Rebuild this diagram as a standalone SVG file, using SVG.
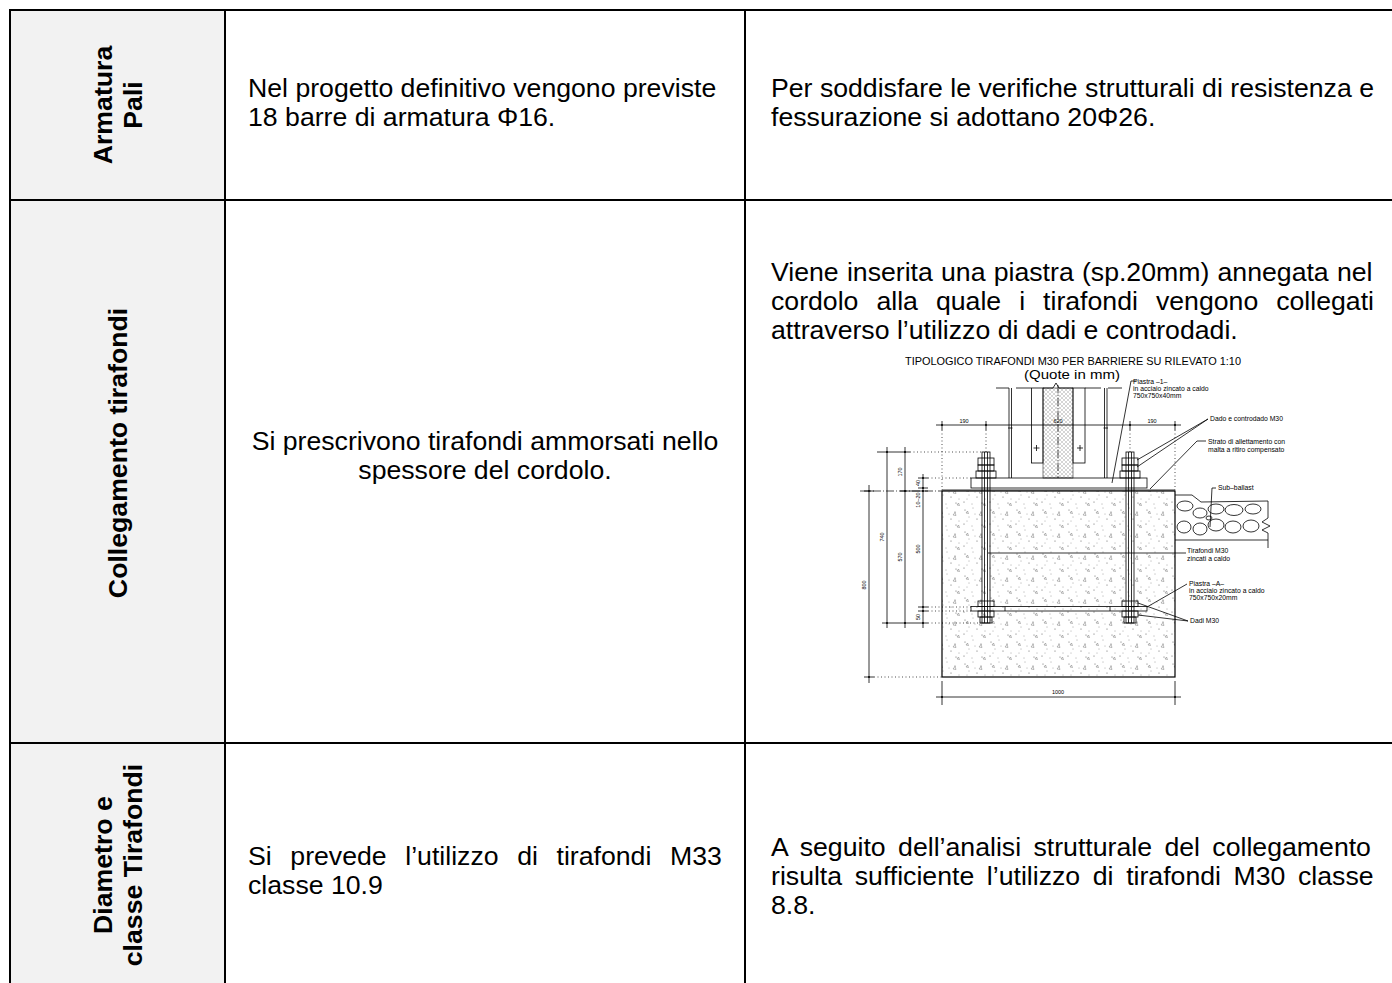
<svg xmlns="http://www.w3.org/2000/svg" width="1392" height="983" viewBox="0 0 1392 983">
<style>
.t{font-family:"Liberation Sans",Arial,sans-serif;font-size:26.67px;fill:#000}
.b{font-weight:bold}
.g{stroke:#000;stroke-width:2;fill:none}
.ln{stroke:#000;stroke-width:0.8;fill:none}
.dot{stroke:#000;stroke-width:0.7;stroke-dasharray:1 2.5;fill:none}
.dd{stroke:#000;stroke-width:0.7;stroke-dasharray:8 2 1 2;fill:none}
.cad{font-family:"Liberation Sans",Arial,sans-serif;font-size:6.8px;fill:#000}
.ct{font-family:"Liberation Sans",Arial,sans-serif;font-size:11px;fill:#000}
.dim{font-family:"Liberation Sans",Arial,sans-serif;font-size:5.5px;fill:#000}
</style>
<defs>
<pattern id="conc" width="26" height="22" patternUnits="userSpaceOnUse">
<g fill="#444">
<circle cx="3" cy="4" r="0.5"/><circle cx="11" cy="2" r="0.45"/><circle cx="19" cy="6" r="0.5"/>
<circle cx="7" cy="11" r="0.45"/><circle cx="15" cy="13" r="0.5"/><circle cx="23" cy="15" r="0.45"/>
<circle cx="2" cy="18" r="0.5"/><circle cx="10" cy="20" r="0.45"/><circle cx="20" cy="19" r="0.5"/>
<circle cx="13" cy="8" r="0.4"/><circle cx="5" cy="15" r="0.4"/>
</g>
<path d="M17 9 l2 -2.5 l1 3 z M4 7 l1.5 -2 l1 2.5 z M21 21 l1.5 -2 l1 2.5 z" fill="none" stroke="#555" stroke-width="0.4"/>
</pattern>
<pattern id="hatch" width="4" height="4" patternUnits="userSpaceOnUse">
<path d="M0 0 L4 4 M4 0 L0 4" stroke="#aaa" stroke-width="0.5"/>
</pattern>
</defs>

<rect x="10" y="10" width="215" height="973" fill="#f2f2f2"/>

<g id="grid">
<line class="g" x1="9" y1="10" x2="1392" y2="10"/>
<line class="g" x1="10" y1="9" x2="10" y2="983"/>
<line class="g" x1="225" y1="10" x2="225" y2="983"/>
<line class="g" x1="745" y1="10" x2="745" y2="983"/>
<line class="g" x1="10" y1="200" x2="1392" y2="200"/>
<line class="g" x1="10" y1="743" x2="1392" y2="743"/>
</g>

<g id="row1-head">
<text class="t b" text-anchor="middle" transform="translate(112,105) rotate(-90)">Armatura</text>
<text class="t b" text-anchor="middle" transform="translate(142,105) rotate(-90)">Pali</text>
</g>
<g id="row1-col2">
<text class="t" x="248" y="97">Nel progetto definitivo vengono previste</text>
<text class="t" x="248" y="126">18 barre di armatura Φ16.</text>
</g>
<g id="row1-col3">
<text class="t" x="771" y="97">Per soddisfare le verifiche strutturali di resistenza e</text>
<text class="t" x="771" y="126">fessurazione si adottano 20Φ26.</text>
</g>

<g id="row2-head">
<text class="t b" text-anchor="middle" transform="translate(127,453) rotate(-90)">Collegamento tirafondi</text>
</g>
<g id="row2-col2">
<text class="t" x="485" y="450" text-anchor="middle">Si prescrivono tirafondi ammorsati nello</text>
<text class="t" x="485" y="479" text-anchor="middle">spessore del cordolo.</text>
</g>
<g id="row2-col3">
<text class="t" x="771" y="281" word-spacing="0.8">Viene inserita una piastra (sp.20mm) annegata nel</text>
<text class="t" x="771" y="310" word-spacing="10.6">cordolo alla quale i tirafondi vengono collegati</text>
<text class="t" x="771" y="339">attraverso l’utilizzo di dadi e controdadi.</text>
</g>

<g id="drawing">
<text class="ct" x="1073" y="365" text-anchor="middle" textLength="336" lengthAdjust="spacingAndGlyphs">TIPOLOGICO TIRAFONDI M30 PER BARRIERE SU RILEVATO 1:10</text>
<text class="ct" x="1072" y="379" text-anchor="middle" textLength="96" lengthAdjust="spacingAndGlyphs" style="font-size:12.5px">(Quote in mm)</text>

<!-- concrete block -->
<rect x="942" y="491" width="233" height="186" fill="url(#conc)" stroke="#000" stroke-width="1.2"/>

<!-- ballast -->
<path class="ln" d="M1175 495 L1192 495 L1201 502 L1268 501 L1268 518 L1262 522 L1270 526 L1262 530 L1268 533 L1268 540 L1175 540" fill="#fff"/>
<g class="ln" stroke-width="0.5">
<ellipse cx="1185" cy="506" rx="8" ry="5"/><ellipse cx="1200" cy="513" rx="7" ry="5"/><ellipse cx="1216" cy="509" rx="8" ry="5"/>
<ellipse cx="1234" cy="510" rx="9" ry="5.5"/><ellipse cx="1253" cy="509" rx="8" ry="5"/><ellipse cx="1184" cy="527" rx="7" ry="6"/>
<ellipse cx="1200" cy="529" rx="7" ry="6"/><ellipse cx="1216" cy="525" rx="8" ry="6"/><ellipse cx="1233" cy="527" rx="8" ry="6"/>
<ellipse cx="1251" cy="526" rx="8" ry="6"/><ellipse cx="1209" cy="518" rx="3" ry="2"/>
</g>
<line class="ln" x1="1268" y1="540" x2="1268" y2="548"/>

<!-- column -->
<rect x="1043" y="388" width="30" height="90" fill="url(#hatch)" stroke="#000" stroke-width="0.5"/>
<path class="ln" d="M1043 388 L1053 388 L1056 383 L1059 388 L1073 388" fill="#fff"/>
<line class="dd" x1="1058" y1="385" x2="1058" y2="478"/>
<g class="ln">
<path d="M996 388 L1009 388 M1016 388 L1031 388 M1085 388 L1101 388 M1108 388 L1122 388"/>
<line x1="1009" y1="388" x2="1009" y2="478"/><line x1="1011.5" y1="388" x2="1011.5" y2="478"/>
<line x1="1104.5" y1="388" x2="1104.5" y2="478"/><line x1="1107" y1="388" x2="1107" y2="478"/>
<rect x="1031.5" y="388" width="11.5" height="75"/>
<rect x="1073" y="388" width="12" height="75"/>
<path d="M1033.5 448 H1039.5 M1036.5 445 V451 M1077 448 H1083 M1080 445 V451"/>
<path d="M1008 428 H1012.5 M1103.5 428 H1108"/>
</g>

<!-- base plate -->
<rect class="ln" x="971" y="478" width="176" height="10" fill="#fff"/>
<line class="ln" x1="942" y1="490" x2="1175" y2="490"/>

<!-- bottom plate -->
<rect class="ln" x="971" y="606.5" width="176" height="4.5" fill="#fff"/>
<path class="ln" d="M1005 606.5 V611 M1110 606.5 V611"/>

<!-- bolts -->
<g class="ln" fill="#fff">
<rect x="982" y="452" width="8" height="171"/>
<rect x="1126" y="452" width="8" height="171"/>
<rect x="978" y="458" width="16" height="7"/><rect x="978" y="465" width="16" height="6"/><rect x="976" y="471" width="20" height="7"/>
<rect x="1122" y="458" width="16" height="7"/><rect x="1122" y="465" width="16" height="6"/><rect x="1120" y="471" width="20" height="7"/>
<rect x="978" y="601" width="16" height="5.5"/><rect x="978" y="611" width="16" height="6"/><rect x="980" y="617" width="12" height="6"/>
<rect x="1122" y="601" width="16" height="5.5"/><rect x="1122" y="611" width="16" height="6"/><rect x="1124" y="617" width="12" height="6"/>
</g>
<g class="ln" stroke-width="0.5">
<line x1="984.5" y1="452" x2="984.5" y2="623"/><line x1="987.5" y1="452" x2="987.5" y2="623"/>
<line x1="1128.5" y1="452" x2="1128.5" y2="623"/><line x1="1131.5" y1="452" x2="1131.5" y2="623"/>
</g>

<!-- top dimension -->
<line class="ln" x1="936" y1="425" x2="1181" y2="425"/>
<g class="ln"><path d="M942 421 V430 M986 421 V430 M1130 421 V430 M1175 421 V430"/></g>
<g fill="#000"><circle cx="942" cy="425" r="1"/><circle cx="986" cy="425" r="1"/><circle cx="1130" cy="425" r="1"/><circle cx="1175" cy="425" r="1"/></g>
<path class="dot" d="M942 430 V490 M1175 430 V490 M986 430 V452 M1130 430 V452"/>
<text class="dim" x="964" y="423" text-anchor="middle">190</text>
<text class="dim" x="1058" y="423" text-anchor="middle">620</text>
<text class="dim" x="1152" y="423" text-anchor="middle">190</text>

<!-- left dimensions -->
<g class="ln">
<line x1="869" y1="485" x2="869" y2="683"/>
<line x1="887" y1="447" x2="887" y2="628"/>
<line x1="905" y1="447" x2="905" y2="628"/>
<line x1="923" y1="474" x2="923" y2="628"/>
<path d="M864 491 H874 M864 677 H874 M877 452 H910 M882 623 H928 M900 491 H928 M918 478 H928 M918 488 H928 M918 607 H928 M918 611 H928"/>
</g>
<g fill="#000">
<circle cx="869" cy="491" r="1"/><circle cx="869" cy="677" r="1"/>
<circle cx="887" cy="452" r="1"/><circle cx="887" cy="623" r="1"/>
<circle cx="905" cy="452" r="1"/><circle cx="905" cy="491" r="1"/><circle cx="905" cy="623" r="1"/>
<circle cx="923" cy="478" r="1"/><circle cx="923" cy="488" r="1"/><circle cx="923" cy="491" r="1"/><circle cx="923" cy="607" r="1"/><circle cx="923" cy="611" r="1"/><circle cx="923" cy="623" r="1"/>
</g>
<line class="dd" x1="860" y1="491" x2="942" y2="491"/>
<path class="dot" d="M874 677 H942 M910 452 H982 M928 478 H971 M928 607 H971 M928 611 H971 M928 623 H978"/>
<text class="dim" text-anchor="middle" transform="translate(866,585) rotate(-90)">800</text>
<text class="dim" text-anchor="middle" transform="translate(884,537) rotate(-90)">740</text>
<text class="dim" text-anchor="middle" transform="translate(902,472) rotate(-90)">170</text>
<text class="dim" text-anchor="middle" transform="translate(902,557) rotate(-90)">570</text>
<text class="dim" text-anchor="middle" transform="translate(920,483) rotate(-90)">40</text>
<text class="dim" text-anchor="middle" transform="translate(920,500) rotate(-90)">10–20</text>
<text class="dim" text-anchor="middle" transform="translate(920,549) rotate(-90)">500</text>
<text class="dim" text-anchor="middle" transform="translate(920,617) rotate(-90)">50</text>

<!-- bottom dimension -->
<line class="ln" x1="936" y1="697" x2="1181" y2="697"/>
<path class="ln" d="M942 681 V705 M1175 681 V705"/>
<g fill="#000"><circle cx="942" cy="697" r="1"/><circle cx="1175" cy="697" r="1"/></g>
<text class="dim" x="1058" y="694" text-anchor="middle">1000</text>

<!-- leaders -->
<g class="ln" stroke-width="0.6">
<path d="M1136 381 H1131 L1112 483"/>
<path d="M1208 419 L1137 460 M1208 419 L1137 467"/>
<path d="M1206 441 H1197 L1150 489"/>
<path d="M1216 488 H1212 L1210 527"/>
<path d="M988 553 H1186"/>
<path d="M1187 584 L1147 607"/>
<path d="M1188 621 L1138 603 M1188 621 L1138 615"/>
</g>
<text class="cad" x="1133" y="384">Piastra –1–</text>
<text class="cad" x="1133" y="391">in acciaio zincato a caldo</text>
<text class="cad" x="1133" y="398">750x750x40mm</text>
<text class="cad" x="1210" y="421">Dado e controdado M30</text>
<text class="cad" x="1208" y="444">Strato di allettamento con</text>
<text class="cad" x="1208" y="452">malta a ritiro compensato</text>
<text class="cad" x="1218" y="490">Sub–ballast</text>
<text class="cad" x="1187" y="553">Tirafondi M30</text>
<text class="cad" x="1187" y="561">zincati a caldo</text>
<text class="cad" x="1189" y="586">Piastra –A–</text>
<text class="cad" x="1189" y="593">in acciaio zincato a caldo</text>
<text class="cad" x="1189" y="600">750x750x20mm</text>
<text class="cad" x="1190" y="623">Dadi M30</text>
</g>

<g id="row3-head">
<text class="t b" text-anchor="middle" transform="translate(112,865) rotate(-90)">Diametro e</text>
<text class="t b" text-anchor="middle" transform="translate(142,865) rotate(-90)">classe Tirafondi</text>
</g>
<g id="row3-col2">
<text class="t" x="248" y="865" word-spacing="11.2">Si prevede l’utilizzo di tirafondi M33</text>
<text class="t" x="248" y="894">classe 10.9</text>
</g>
<g id="row3-col3">
<text class="t" x="771" y="856" word-spacing="5">A seguito dell’analisi strutturale del collegamento</text>
<text class="t" x="771" y="885" word-spacing="5.2">risulta sufficiente l’utilizzo di tirafondi M30 classe</text>
<text class="t" x="771" y="914">8.8.</text>
</g>
</svg>
